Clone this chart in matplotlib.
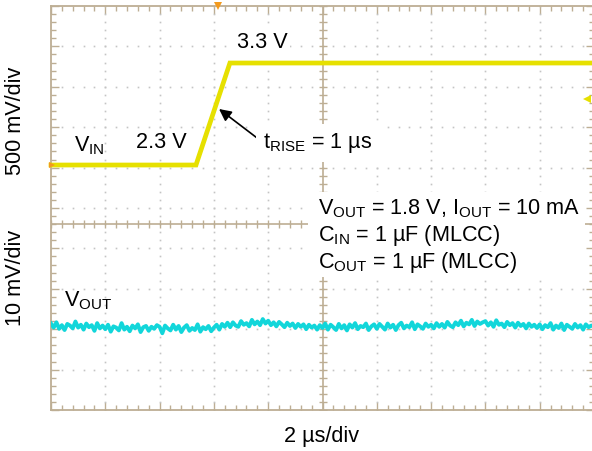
import matplotlib
matplotlib.use("Agg")
import matplotlib.pyplot as plt
import numpy as np
from matplotlib.patches import Rectangle

plt.rcParams['font.family'] = ['Liberation Sans', 'DejaVu Sans']
plt.rcParams['mathtext.fontset'] = 'custom'
plt.rcParams['mathtext.rm'] = 'Liberation Sans'
plt.rcParams['mathtext.it'] = 'Liberation Sans:italic'
plt.rcParams['mathtext.bf'] = 'Liberation Sans:bold'

# ---------------- data ----------------
time_per_div_us = 2.0
n_div_x = 10
n_div_y = 10

vin_time_us = [0.0, 5.34, 6.59, 20.0]
vin_volts = [2.3, 2.3, 3.3, 3.3]

vout_dev_mV = [
    0.6, -0.4, 0.9, -0.7, 0.2, -1.0, 0.5, 0.1, -0.6, 1.1, -0.4, 0.3, -0.9, 0.6, -0.3, 0.2, -1.2, 0.7, -0.6, 0.1,
    -0.8, 0.3, -1.4, -0.1, -0.4, -1.1, 0.7, -0.9, -0.2, -1.3, 0.1, -0.6, 0.4, -1.5, -0.3, 0.0, -1.2, -0.2, -0.7, 0.2,
    -0.2, -1.8, 0.1, -0.6, -1.1, 0.3, -0.9, 0.0, -1.5, -0.4, 0.2, -1.2, -0.5, -1.0, 0.4, -1.4, -0.3, -0.8, 0.0, -1.3,
    -0.4, 0.3, -0.9, 0.5, -0.2, 0.8, -0.3, 0.9, 0.1, -0.2, 1.2, 0.3, 0.7, -0.1, 1.5, 0.4, 1.1, 0.2, 1.7, 0.6,
    1.3, 0.2, 0.9, -0.1, 1.0, 0.4, -0.3, 0.8, 0.0, 0.6, -0.5, 0.5, -0.2, 0.4, -0.8, 0.3, -0.4, 0.1, -0.9, 0.2,
    -0.5, 0.6, -0.9, 0.3, -0.3, -1.0, 0.5, -0.6, 0.2, -1.1, 0.4, -0.4, 0.7, -0.8, 0.0, -0.3, 0.6, -1.0, -0.1, 0.4,
    -0.7, 0.5, -0.2, -0.9, 0.6, -0.4, 0.3, -1.0, 0.2, 0.8, -0.6, 0.1, -0.3, 0.9, -0.8, 0.4, -0.1, -0.7, 0.6, -0.2,
    0.3, -0.6, 0.7, -0.2, 0.5, -0.4, 1.0, 0.1, -0.3, 0.9, 0.2, 1.3, -0.1, 0.8, 0.4, 1.5, 0.0, 1.1, 0.5, 0.9,
    1.2, 0.1, 0.9, -0.2, 1.4, 0.3, 0.6, -0.3, 1.0, 0.2, 0.7, -0.4, 0.8, 0.0, 0.5, -0.6, 0.6, -0.2, 0.3, -0.5,
    0.4, -0.8, 0.2, -0.3, 0.7, -0.9, 0.1, -0.5, 0.6, -1.0, 0.3, -0.2, -0.7, 0.5, -0.4, 0.2, -0.9, 0.4, -0.3, 0.1,
    0.0,
]

trigger_time_us = 6.15
trigger_level_V = 2.95
vin_marker_V = 2.3

# ---------------- styling ----------------
W, H = 592, 451
TAN = '#BDAE94'
DOT = '#C4C4C4'
YELLOW = '#E6E000'
CYAN = '#12D6DA'
ORANGE = '#F39A1E'
FS = 15.6

fig = plt.figure(figsize=(W / 100, H / 100), dpi=100)


def px_rect(x0, y0, x1, y1):
    return [x0 / W, 1 - y1 / H, (x1 - x0) / W, (y1 - y0) / H]


def fx(x):
    return x / W


def fy(y):
    return 1 - y / H


pos = px_rect(51, 6, 594, 410)

# graticule axes
axg = fig.add_axes(pos, zorder=0)
axg.set_xlim(0, n_div_x)
axg.set_ylim(0, n_div_y)
for s in axg.spines.values():
    s.set_color(TAN)
    s.set_linewidth(1.3)
axg.set_xticks(np.arange(0, n_div_x + 0.01, 1))
axg.set_yticks(np.arange(0, n_div_y + 0.01, 1))
axg.set_xticks(np.arange(0, n_div_x + 0.01, 0.2), minor=True)
axg.set_yticks(np.arange(0, n_div_y + 0.01, 0.2), minor=True)
axg.tick_params(which='both', direction='in', top=True, bottom=True, left=True, right=True,
                labelleft=False, labelbottom=False, color=TAN, width=1.0)
axg.tick_params(which='major', length=6)
axg.tick_params(which='minor', length=3.5)

minor_x = np.arange(0, n_div_x + 0.001, 0.2)
minor_y = np.arange(0, n_div_y + 0.001, 0.2)
center_x = n_div_x / 2
center_y = 4.6
for i in range(1, n_div_x):
    if i == center_x:
        continue
    axg.plot(np.full_like(minor_y, i), minor_y, ls='none', marker='s', ms=1.2, color=DOT, mew=0)
for j in range(1, n_div_y):
    axg.plot(minor_x, np.full_like(minor_x, j), ls='none', marker='s', ms=1.2, color=DOT, mew=0)

# center cross with tick marks
axg.axvline(center_x, color=TAN, lw=1.2, zorder=3)
axg.axhline(center_y, color=TAN, lw=1.2, zorder=3)
axg.plot(np.full_like(minor_y, center_x), minor_y, ls='none', marker='_', ms=6, mew=1.0, color=TAN, zorder=3)
axg.plot(minor_x, np.full_like(minor_x, center_y), ls='none', marker='|', ms=6, mew=1.0, color=TAN, zorder=3)

# white box behind the conditions text
axg.add_patch(Rectangle((fx(308), fy(277)), (585 - 308) / W, (277 - 192) / H,
                        transform=fig.transFigure, facecolor='white', edgecolor='none',
                        zorder=4, clip_on=False))

# VIN axes
ax = fig.add_axes(pos, zorder=1)
ax.patch.set_alpha(0)
ax.axis('off')
ax.set_xlim(0, n_div_x * time_per_div_us)
ax.set_ylim(-0.102, 3.859)
ax.plot(vin_time_us, vin_volts, color=YELLOW, lw=3.4, solid_joinstyle='miter', clip_on=False)
ax.plot([trigger_time_us], [3.859], marker='v', ms=6, color=ORANGE, clip_on=False, mew=0)
ax.plot([0.05], [vin_marker_V], marker='>', ms=4, color=ORANGE, clip_on=False, mew=0)
ax.plot([19.75], [trigger_level_V], marker='<', ms=6, color=YELLOW, clip_on=False, mew=0)

ax.annotate('', xy=(6.19, 2.849), xytext=(7.59, 2.565),
            arrowprops=dict(arrowstyle='-|>', color='black', lw=1.2, mutation_scale=18,
                            shrinkA=0, shrinkB=0))

# VOUT axes
ax2 = fig.add_axes(pos, zorder=2)
ax2.patch.set_alpha(0)
ax2.axis('off')
ax2.set_xlim(0, n_div_x * time_per_div_us)
ax2.set_ylim(-20.8, 79.2)
t_out = np.linspace(0, n_div_x * time_per_div_us, len(vout_dev_mV))
ax2.plot(t_out, vout_dev_mV, color=CYAN, lw=2.8)

# ---------------- text ----------------
wb = dict(facecolor='white', edgecolor='none', pad=2)
fig.text(fx(74), fy(151), r'V$_\mathregular{IN}$', fontsize=FS, ha='left', va='baseline')
fig.text(fx(161), fy(148), '2.3 V', fontsize=FS, ha='center', va='baseline', bbox=wb)
fig.text(fx(262), fy(48), '3.3 V', fontsize=FS, ha='center', va='baseline', bbox=wb)
fig.text(fx(263), fy(148), r't$_\mathregular{RISE}$ = 1 µs', fontsize=FS, ha='left', va='baseline',
         bbox=dict(facecolor='white', edgecolor='none', pad=5))
fig.text(fx(64), fy(306), r'V$_\mathregular{OUT}$', fontsize=FS, ha='left', va='baseline')

fig.text(fx(318), fy(214), r'V$_\mathregular{OUT}$ = 1.8 V, I$_\mathregular{OUT}$ = 10 mA',
         fontsize=FS, ha='left', va='baseline', zorder=5)
fig.text(fx(318), fy(241), r'C$_\mathregular{IN}$ = 1 µF (MLCC)',
         fontsize=FS, ha='left', va='baseline', zorder=5)
fig.text(fx(318), fy(268), r'C$_\mathregular{OUT}$ = 1 µF (MLCC)',
         fontsize=FS, ha='left', va='baseline', zorder=5)

fig.text(fx(16), fy(121), '500 mV/div', fontsize=FS, rotation=90, ha='center', va='center')
fig.text(fx(16), fy(278), '10 mV/div', fontsize=FS, rotation=90, ha='center', va='center')
fig.text(fx(322), fy(442), '2 µs/div', fontsize=FS, ha='center', va='baseline')

fig.savefig('out.png', dpi=100, facecolor='white')
